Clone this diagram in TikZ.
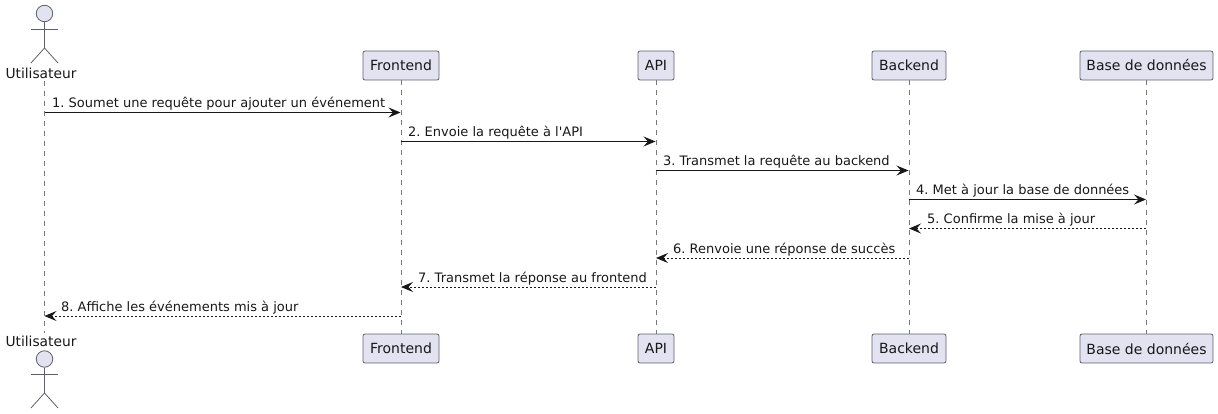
\documentclass[tikz,border=0pt]{standalone}
\usepackage{fontspec}
\setmainfont{DejaVu Sans}
\usetikzlibrary{arrows.meta}
\definecolor{partfill}{HTML}{E2E2F0}
\definecolor{partline}{HTML}{5F5F6B}
\definecolor{msgline}{HTML}{181818}
\frenchspacing
\tikzset{
  participant/.style={draw=partline, fill=partfill, rounded corners=2pt, line width=0.8pt, minimum height=29pt, inner xsep=0pt, inner ysep=0pt, text=msgline, font=\fontsize{14}{16}\selectfont},
  actorhead/.style={circle, draw=partline, fill=partfill, line width=0.8pt, minimum size=16.5pt, inner sep=0pt},
  actorline/.style={draw=partline, line width=0.8pt},
  actorname/.style={text=msgline, inner sep=0pt, font=\fontsize{13.8}{16}\selectfont},
  lifeline/.style={draw=partline!85, line width=0.6pt, dash pattern=on 5pt off 5pt},
  msgtext/.style={anchor=base west, inner sep=0pt, text=msgline, font=\fontsize{13}{15}\selectfont},
  callarrow/.style={draw=msgline, line width=0.9pt, -{Stealth[length=12pt,width=10pt,inset=4.5pt]}},
  replyarrow/.style={callarrow, dash pattern=on 2pt off 2pt}
}
\begin{document}
\begin{tikzpicture}[x=1pt, y=-1pt]
        \useasboundingbox (0, 0) rectangle (1218, 414);

        % Participants, top row
        \node[participant, minimum width=76pt] (front) at (401, 65.5) {Frontend};
        \node[participant, minimum width=36pt] (api) at (656, 65.5) {API};
        \node[participant, minimum width=74pt] (back) at (909, 65.5) {Backend};
        \node[participant, minimum width=133pt] (base) at (1146.5, 65.5) {Base de données};

        % Participants, bottom row
        \node[participant, minimum width=76pt] (frontb) at (401, 348.5) {Frontend};
        \node[participant, minimum width=36pt] (apib) at (656, 348.5) {API};
        \node[participant, minimum width=74pt] (backb) at (909, 348.5) {Backend};
        \node[participant, minimum width=133pt] (baseb) at (1146.5, 348.5) {Base de données};

        % Actor, top
        \node[actorhead] (userhead) at (44.5, 13.5) {};
        \node[actorname] (user) at (41, 73) {Utilisateur};
        \coordinate (userhip) at (44.5, 48);
        \coordinate (userarml) at (31, 29);
        \coordinate (userarmr) at (58, 29);
        \coordinate (userlegl) at (31, 63);
        \coordinate (userlegr) at (58, 63);
        \draw[actorline] (userhead) -- (userhip);
        \draw[actorline] (userarml) -- (userarmr);
        \draw[actorline] (userlegl) -- (userhip) -- (userlegr);

        % Actor, bottom
        \node[actorname] (userb) at (41, 341) {Utilisateur};
        \node[actorhead] (userheadb) at (44.5, 359) {};
        \coordinate (userhipb) at (44.5, 393);
        \coordinate (userarmlb) at (31, 374);
        \coordinate (userarmrb) at (58, 374);
        \coordinate (userleglb) at (31, 408);
        \coordinate (userlegrb) at (58, 408);
        \draw[actorline] (userheadb) -- (userhipb);
        \draw[actorline] (userarmlb) -- (userarmrb);
        \draw[actorline] (userleglb) -- (userhipb) -- (userlegrb);

        % Lifelines
        \coordinate (usertop) at (44.5, 81);
        \coordinate (userbot) at (44.5, 333);
        \draw[lifeline] (usertop) -- (userbot);
        \draw[lifeline] (front) -- (frontb);
        \draw[lifeline] (api) -- (apib);
        \draw[lifeline] (back) -- (backb);
        \draw[lifeline] (base) -- (baseb);

        % Messages
        \coordinate (m1a) at (44.5, 112.5);
        \coordinate (m1b) at (400.5, 112.5);
        \draw[callarrow] (m1a) -- (m1b);
        \node[msgtext] (t1) at (52, 108) {1. Soumet une requête pour ajouter un événement};

        \coordinate (m2a) at (400.5, 141.5);
        \coordinate (m2b) at (655.5, 141.5);
        \draw[callarrow] (m2a) -- (m2b);
        \node[msgtext] (t2) at (408, 137) {2. Envoie la requête à l\textquotesingle API};

        \coordinate (m3a) at (655.5, 170.5);
        \coordinate (m3b) at (908.5, 170.5);
        \draw[callarrow] (m3a) -- (m3b);
        \node[msgtext] (t3) at (663, 166) {3. Transmet la requête au backend};

        \coordinate (m4a) at (908.5, 199.5);
        \coordinate (m4b) at (1146, 199.5);
        \draw[callarrow] (m4a) -- (m4b);
        \node[msgtext] (t4) at (916, 195) {4. Met à jour la base de données};

        \coordinate (m5a) at (1146, 228.5);
        \coordinate (m5b) at (909, 228.5);
        \draw[replyarrow] (m5a) -- (m5b);
        \node[msgtext] (t5) at (927, 224) {5. Confirme la mise à jour};

        \coordinate (m6a) at (908.5, 258);
        \coordinate (m6b) at (656, 258);
        \draw[replyarrow] (m6a) -- (m6b);
        \node[msgtext] (t6) at (673, 253.5) {6. Renvoie une réponse de succès};

        \coordinate (m7a) at (655.5, 287);
        \coordinate (m7b) at (401, 287);
        \draw[replyarrow] (m7a) -- (m7b);
        \node[msgtext] (t7) at (418, 282.5) {7. Transmet la réponse au frontend};

        \coordinate (m8a) at (400.5, 316);
        \coordinate (m8b) at (44.5, 316);
        \draw[replyarrow] (m8a) -- (m8b);
        \node[msgtext] (t8) at (61, 311.5) {8. Affiche les événements mis à jour};
\end{tikzpicture}
\end{document}
